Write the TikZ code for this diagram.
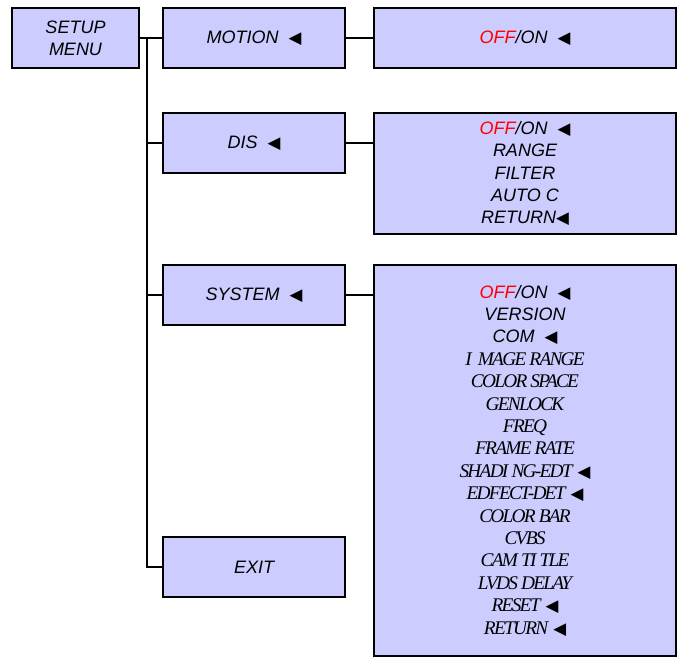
\documentclass[tikz,border=0pt]{standalone}
\usepackage{fontspec}
\setmainfont{Liberation Sans}
\newfontfamily\symf{DejaVu Sans}
\newfontfamily\condserif[LetterSpace=-9]{Liberation Serif}
\definecolor{boxfill}{HTML}{CCCCFF}
\definecolor{offred}{HTML}{FF0000}
\newcommand{\tri}{{\symf\fontsize{12.5}{12.5}\selectfont ◀}}
\newcommand{\offon}{\textcolor{offred}{OFF}/ON}
\newcommand{\cs}[1]{{\condserif\fontsize{14.5}{16.8}\selectfont #1}}
\begin{document}
\begin{tikzpicture}[x=0.75pt,y=-0.75pt,
  menubox/.style={draw=black,line width=1.5pt,fill=boxfill,rectangle,inner sep=0pt,
    font=\itshape\fontsize{13.5}{16.8}\selectfont,align=center,minimum height=45pt},
  mainbox/.style={menubox,minimum width=136.5pt},
  subbox/.style={menubox,minimum width=226.5pt},
  conn/.style={draw=black,line width=1.1pt}]
\useasboundingbox (0,0) rectangle (677,657);
\node[menubox,minimum width=95.25pt] (setup) at (75.5,38) {SETUP\\[-0.5pt]MENU};
\node[mainbox] (motion) at (254,38) {MOTION\ \ \tri};
\node[mainbox] (dis) at (254,143) {DIS\ \ \tri};
\node[mainbox] (system) at (254,295) {SYSTEM\ \ \tri};
\node[mainbox] (exit) at (254,567) {EXIT};
\node[subbox] (motionsub) at (525,38) {\offon\ \ \tri};
\node[subbox,minimum height=90.75pt] (dissub) at (525,173.5)
  {\offon\ \ \tri\\RANGE\\FILTER\\AUTO C\\RETURN\tri};
\node[subbox,minimum height=293.25pt] (syssub) at (525,460.5)
  {\offon\ \ \tri\\VERSION\\COM\ \ \tri\\
   \cs{I\ \ MAGE RANGE}\\\cs{COLOR SPACE}\\\cs{GENLOCK}\\
   \cs{FREQ}\\\cs{FRAME RATE}\\\cs{SHADI NG-EDT} \tri\\
   \cs{EDFECT-DET} \tri\\\cs{COLOR BAR}\\\cs{CVBS}\\
   \cs{CAM TI TLE}\\\cs{LVDS DELAY}\\\cs{RESET} \tri\\
   \cs{RETURN} \tri};
\coordinate (trunk) at (147,38);
\draw[conn] (setup.east) -- (motion.west);
\draw[conn] (trunk) |- (exit.west);
\draw[conn] (trunk |- dis.west) -- (dis.west);
\draw[conn] (trunk |- system.west) -- (system.west);
\draw[conn] (motion.east) -- (motionsub.west);
\draw[conn] (dis.east) -- (dis.east -| dissub.west);
\draw[conn] (system.east) -- (system.east -| syssub.west);
\end{tikzpicture}
\end{document}
